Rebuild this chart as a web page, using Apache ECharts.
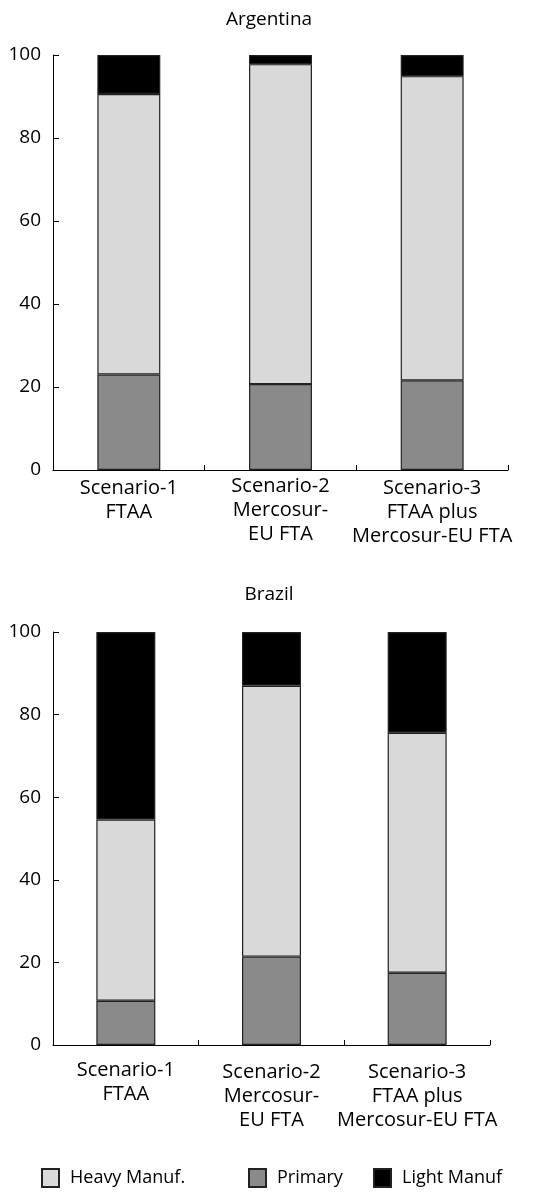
<!DOCTYPE html>
<html>
<head>
<meta charset="utf-8">
<script src="https://cdn.jsdelivr.net/npm/echarts@6/dist/echarts.min.js"></script>
<style>
html,body{margin:0;padding:0;background:#fff;}
#chart{width:538px;height:1192px;}
</style>
</head>
<body>
<div id="chart"></div>
<script>
const categories = ['Scenario-1\nFTAA', 'Scenario-2\nMercosur-\nEU FTA', 'Scenario-3\nFTAA plus\nMercosur-EU FTA'];
const seriesNames = ['Heavy Manuf.', 'Primary', 'Light Manuf'];
const yTicks = [0, 20, 40, 60, 80, 100];

const argPrimary = [23.0, 20.7, 21.6];
const argHeavy   = [67.6, 77.1, 73.3];
const argLight   = [9.4, 2.2, 5.1];

const braPrimary = [10.7, 21.4, 17.5];
const braHeavy   = [43.9, 65.6, 58.1];
const braLight   = [45.4, 13.0, 24.4];

const FONT = '"Open Sans", "Noto Sans", sans-serif';
const colors = {'Heavy Manuf.': '#d9d9d9', 'Primary': '#8a8a8a', 'Light Manuf': '#000000'};

const chart = echarts.init(document.getElementById('chart'), null, {renderer: 'canvas'});

function xAxisFor(idx, pads, margin) {
  return {
    type: 'category', gridIndex: idx,
    data: categories.map((c, i) => ({value: c, textStyle: {padding: [pads[i], 0, 0, 0]}})),
    axisLine: {show: true, lineStyle: {color: '#000', width: 1}},
    axisTick: {show: true, inside: true, length: 5, alignWithLabel: false, lineStyle: {color: '#000'}},
    axisLabel: {interval: 0, color: '#000', fontSize: 20, fontFamily: FONT, lineHeight: 24, margin: margin}
  };
}
function yAxisFor(idx) {
  return {
    type: 'value', gridIndex: idx, min: 0, max: 100, interval: 20,
    axisLine: {show: true, lineStyle: {color: '#000', width: 1}},
    axisTick: {show: true, inside: true, length: 6, lineStyle: {color: '#000'}},
    splitLine: {show: false},
    axisLabel: {color: '#000', fontSize: 19, fontFamily: FONT, margin: 12,
      formatter: v => yTicks.includes(v) ? String(v) : ''}
  };
}
function bar(name, data, idx, stack, bw) {
  return {
    name: name, type: 'bar', stack: stack, xAxisIndex: idx, yAxisIndex: idx,
    data: data, barWidth: bw,
    itemStyle: {color: colors[name], borderColor: '#222', borderWidth: 1.2},
    emphasis: {disabled: true}
  };
}
function legendFor(name, left) {
  return {
    data: [name], left: left, top: 1163, icon: 'rect', itemWidth: 17, itemHeight: 18, itemGap: 0,
    textStyle: {color: '#000', fontSize: 18, fontFamily: FONT, padding: [0, 0, 0, 6]},
    selectedMode: false
  };
}

chart.setOption({
  animation: false,
  backgroundColor: '#fff',
  title: [
    {text: 'Argentina', left: 'center', top: 5, textStyle: {fontSize: 19, fontWeight: 'normal', color: '#000', fontFamily: FONT}},
    {text: 'Brazil', left: 'center', top: 580, textStyle: {fontSize: 19, fontWeight: 'normal', color: '#000', fontFamily: FONT}}
  ],
  legend: [
    legendFor('Heavy Manuf.', 36),
    legendFor('Primary', 243),
    legendFor('Light Manuf', 368)
  ],
  grid: [
    {left: 53, top: 55, width: 455, height: 415},
    {left: 53, top: 632, width: 437, height: 413}
  ],
  xAxis: [xAxisFor(0, [2, 0, 2], 4), xAxisFor(1, [0, 2, 2], 13)],
  yAxis: [yAxisFor(0), yAxisFor(1)],
  series: [
    bar('Primary', argPrimary, 0, 'a', '41.5%'),
    bar('Heavy Manuf.', argHeavy, 0, 'a', '41.5%'),
    bar('Light Manuf', argLight, 0, 'a', '41.5%'),
    bar('Primary', braPrimary, 1, 'b', '40.5%'),
    bar('Heavy Manuf.', braHeavy, 1, 'b', '40.5%'),
    bar('Light Manuf', braLight, 1, 'b', '40.5%')
  ]
});
</script>
</body>
</html>
